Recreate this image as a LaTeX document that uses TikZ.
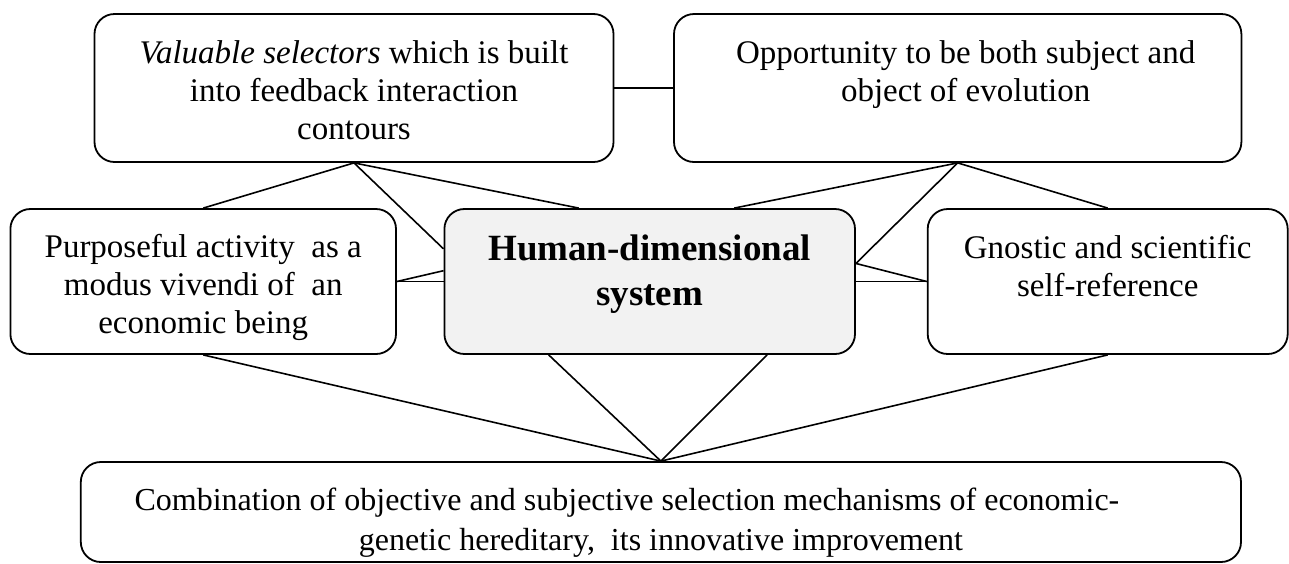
\documentclass[tikz,border=0pt]{standalone}
\usepackage{fontspec}
\setmainfont{Liberation Serif}
\newcommand{\boxtext}[4]{\parbox[c][#2][t]{#1}{\centering\vspace*{#3}\strut #4}}

\begin{document}
\begin{tikzpicture}[x=0.5pt, y=-0.5pt]
	\tikzset{
		every block/.style={draw, rounded corners=10pt, line width=0.9pt,
			inner sep=0pt, font=\fontsize{16.5}{19}\selectfont},
		block centre/.style={fill=black!5,
			font=\fontsize{18.5}{22.5}\selectfont\bfseries},
		block wide/.style={font=\fontsize{16}{20}\selectfont},
		link/.style={line width=0.8pt}
	}
	\useasboundingbox (0,0) rectangle (1289,563);

		% Top row
		\node [every block/.try] (valsel) at (354,88) {
			\boxtext{259.5pt}{74pt}{11.3pt}{\textit{Valuable selectors} which is built\\
			into feedback interaction\\ contours}
		};
		\node [every block/.try] (opp) at (957.7,88) {
			\boxtext{283.7pt}{74pt}{11.3pt}{\hspace*{8pt}Opportunity to be both subject and\\
			\hspace*{8pt}object of evolution}
		};

		% Middle row
		\node [every block/.try] (purp) at (203.2,281.5) {
			\boxtext{192.8pt}{72.5pt}{11pt}{Purposeful activity\ \ as a\\
			modus vivendi of\ \ an\\ economic being}
		};
		\node [every block/.try, block centre/.try] (hds) at (649.7,281.5) {
			\boxtext{205.3pt}{72.5pt}{9.8pt}{Human-dimensional\\ system}
		};
		\node [every block/.try] (gnos) at (1107.7,281.5) {
			\boxtext{180pt}{72.5pt}{11.3pt}{Gnostic and scientific\\ self-reference}
		};

		% Bottom
		\node [every block/.try, block wide/.try] (comb) at (660.9,512) {
			\boxtext{580.1pt}{50pt}{10pt}{Combination of objective and subjective
			selection mechanisms of economic-\hspace*{34pt}\mbox{}\\ genetic hereditary,\ \ its
			innovative improvement}
		};

		\draw [link] (valsel) -- (opp);
		\draw [link] (valsel.south) -- (purp.north);
		\draw [link] (valsel.south) -- (hds.171);
		\draw [link] (valsel.south) -- (hds.134);
		\draw [link] (opp.south) -- (hds.41);
		\draw [link] (opp.south) -- (hds.5);
		\draw [link] (opp.south) -- (gnos.north);

		\draw [link] (purp.east) -- (hds.177);
		\draw [link] (purp) -- (hds);
		\draw [link] (hds.5) -- (gnos.west);
		\draw [link] (hds) -- (gnos);

		\foreach \a in {purp.south, hds.216, hds.328, gnos.south}
			\draw [link] (\a) -- (comb.north);

	\end{tikzpicture}
\end{document}
